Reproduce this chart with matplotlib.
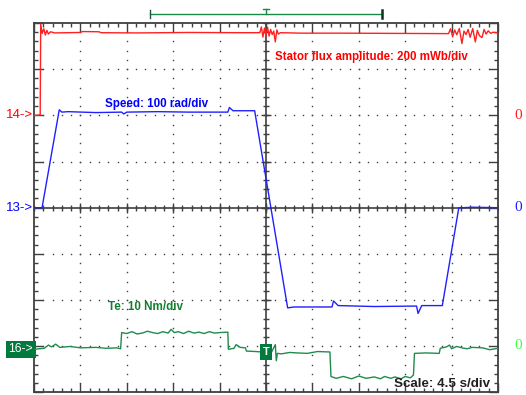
import numpy as np
import matplotlib.pyplot as plt

# scope settings
SEC_PER_DIV = 4.5
SPEED_PER_DIV, FLUX_PER_DIV, TE_PER_DIV = 100.0, 200.0, 10.0
SPEED_REF, FLUX_REF, TE_REF = 0.0, 2.0, -3.065   # channel ground, in divisions
TRIG_T = 22.5

# speed (rad/s)
speed_t = [0, 0.78, 2.45, 2.7, 3.3, 6.0, 8.5, 8.7, 9.0, 12.0, 15.0, 18.8, 18.95,
           19.3, 21.4, 24.6, 25.2, 28.9, 29.05, 29.5, 33.0, 37.1, 37.25, 37.6,
           39.6, 41.2, 41.6, 42.5, 45]
speed_v = [0, 0, 212, 207, 208, 206, 207, 203, 207, 208, 207, 207, 217,
           210, 210, -217, -215, -215, -202, -212, -214, -213, -229, -212,
           -212, 0, 0, 1, 0]

# stator flux amplitude (mWb)
flux_t = [0, 0.19, 0.6, 0.65, 0.8, 0.95, 1.1, 1.25, 1.4, 1.6, 2.0, 4.5, 4.7, 6.3,
          6.5, 10, 15, 20, 21.9, 22.05, 22.2, 22.35, 22.5, 22.65, 22.8, 22.95,
          23.1, 23.25, 23.4, 23.55, 23.7, 23.9, 26, 30, 35, 40.2, 40.4, 40.6,
          40.8, 41.0, 41.25, 41.5, 41.7, 41.9, 42.1, 42.3, 42.55, 42.8, 43.0,
          43.2, 43.45, 43.65, 43.85, 44.05, 44.3, 44.5, 45]
flux_v = [0, 0, 2, 395, 355, 375, 348, 368, 352, 362, 357, 359, 363, 362,
          358, 357, 359, 358, 358, 383, 339, 378, 345, 382, 343, 372, 350,
          365, 318, 370, 352, 358, 356, 356, 355, 354, 375, 340, 370, 349,
          376, 311, 365, 350, 372, 338, 376, 318, 368, 345, 337, 372, 352,
          366, 355, 360, 357]

# electromagnetic torque (Nm)
te_t = [0, 1.0, 1.4, 1.7, 2.1, 2.5, 3.5, 4.5, 6.0, 7.0, 8.0, 8.4, 8.5, 9.0,
        9.5, 10.0, 10.5, 11.0, 11.5, 12.0, 12.5, 13.0, 13.3, 13.6, 14.0,
        14.5, 15.0, 15.5, 16.0, 16.5, 17.0, 17.5, 18.0, 18.8, 18.85,
        19.4, 19.6, 20.0, 20.5, 20.6, 21.5, 22.1, 23.0, 23.4, 23.5, 23.6,
        24.0, 24.8, 25.5, 26.5, 27.5, 28.7, 28.8, 29.3, 30.0, 30.8, 31.5,
        32.2, 33.0, 33.6, 34.0, 34.6, 35.0, 35.6, 36.0, 36.5, 36.8, 36.9,
        38.0, 39.3, 39.4, 40.0, 40.3, 40.5, 41.0, 41.5, 42.0, 42.5, 43.5,
        44.2, 45]
te_v = [0, 0.2, 0.9, 0.5, 1.1, 0.4, 0.6, 0.3, 0.4, 0.2, 0.3, 0.1, 3.6, 3.4,
        3.8, 3.3, 3.5, 3.9, 3.6, 3.4, 3.8, 3.5, 4.3, 3.6, 3.8,
        3.4, 3.9, 3.5, 3.7, 3.4, 3.8, 3.5, 3.6, 3.7, 0.0,
        0.2, 1.0, 0.4, 0.3, -0.4, -0.5, -0.6, -0.8, 1.0, -2.5, -0.9,
        -1.0, -0.7, -0.8, -0.9, -0.5, -0.6, -5.9, -6.3, -5.9, -6.4, -5.8,
        -6.3, -6.0, -6.4, -5.9, -6.3, -6.0, -6.4, -5.9, -6.2, -5.6, -0.9,
        -0.8, -0.9, 0.2, 0.5, 0.9, 0.1, 0.6, 0.3, 0.1, 0.4, 0.3,
        -0.1, 0.2]

FRAME = "#404040"
RED, BLUE, GREEN = "#ff2020", "#2020ff", "#1f8c4e"
BOX_GREEN = "#007a3d"


def to_div(values, ref, per_div):
    return ref + np.asarray(values, dtype=float) / per_div


fig = plt.figure(figsize=(5.26, 3.95), dpi=100)
ax = fig.add_axes([34 / 526, 2.6 / 395, 464 / 526, 369.4 / 395])
ax.set_xlim(0, 10 * SEC_PER_DIV)
ax.set_ylim(-4, 4)

ax.set_xticks(np.arange(0, 10 * SEC_PER_DIV + 0.01, SEC_PER_DIV))
ax.set_xticks(np.arange(0, 10 * SEC_PER_DIV + 0.01, SEC_PER_DIV / 5), minor=True)
ax.set_yticks(np.arange(-4, 4.01, 1))
ax.set_yticks(np.arange(-4, 4.01, 0.2), minor=True)
ax.tick_params(which="both", direction="in", top=True, right=True, color=FRAME,
               labelleft=False, labelbottom=False, width=1)
ax.tick_params(which="major", length=6.5)
ax.tick_params(which="minor", length=2.8)
for sp in ax.spines.values():
    sp.set_color(FRAME)
    sp.set_linewidth(1.3)

# dotted graticule
gx = np.arange(SEC_PER_DIV, 10 * SEC_PER_DIV, SEC_PER_DIV)
gy = np.arange(-3, 4, 1)
fine_x = np.arange(0, 10 * SEC_PER_DIV + 0.01, SEC_PER_DIV / 5)
fine_y = np.arange(-4, 4.01, 0.2)
for x in gx:
    ax.plot(np.full_like(fine_y, x), fine_y, ls="none", marker="s", ms=1.0,
            mew=0, color=FRAME, zorder=1)
for y in gy:
    ax.plot(fine_x, np.full_like(fine_x, y), ls="none", marker="s", ms=1.0,
            mew=0, color=FRAME, zorder=1)

# centre cross with its own ticks
ax.axhline(0, color=FRAME, lw=1.2, zorder=2)
ax.axvline(TRIG_T, color=FRAME, lw=1.2, zorder=2)
ax.plot(fine_x, np.zeros_like(fine_x), ls="none", marker="|", ms=4.5, mew=1,
        color=FRAME, zorder=2)
ax.plot(gx, np.zeros_like(gx), ls="none", marker="|", ms=7.5, mew=1,
        color=FRAME, zorder=2)
ax.plot(np.full_like(fine_y, TRIG_T), fine_y, ls="none", marker="_", ms=4.5,
        mew=1, color=FRAME, zorder=2)
ax.plot(np.full_like(gy, TRIG_T, dtype=float), gy, ls="none", marker="_", ms=7.5,
        mew=1, color=FRAME, zorder=2)

# traces
ax.plot(flux_t, to_div(flux_v, FLUX_REF, FLUX_PER_DIV), color=RED, lw=1, zorder=4)
ax.plot(speed_t, to_div(speed_v, SPEED_REF, SPEED_PER_DIV), color=BLUE, lw=1, zorder=4)
ax.plot(te_t, to_div(te_v, TE_REF, TE_PER_DIV), color=GREEN, lw=1, zorder=4)

bold = dict(fontweight="bold", family="Liberation Sans", va="center")
ax.text(6.9, 2.25, "Speed: 100 rad/div", color="#0000ff", fontsize=8.4, **bold)
ax.text(23.4, 3.27, "Stator flux amplitude: 200 mWb/div", color="#ff0000",
        fontsize=8.3, **bold)
ax.text(7.2, -2.15, "Te: 10 Nm/div", color="#108030", fontsize=8.4, **bold)
ax.text(34.9, -3.82, "Scale: 4.5 s/div", color="#202020", fontsize=9.6,
        zorder=5, **bold)

# channel markers on the left
mk = dict(fontsize=9.5, family="Liberation Sans", ha="right", va="center",
          clip_on=False)
ax.text(-0.05, FLUX_REF, "14->", color="#ff0000", **mk)
ax.text(-0.05, SPEED_REF, "13->", color="#0000ff", **mk)
ax.text(-0.1, TE_REF, "16->", color="white", fontsize=8.8, ha="right",
        va="center", family="Liberation Sans", clip_on=False,
        bbox=dict(boxstyle="square,pad=0.22", fc=BOX_GREEN, ec="none"))

# ground levels on the right
zr = dict(fontsize=11, family="Liberation Serif", ha="center", va="center",
          clip_on=False)
ax.text(46.95, FLUX_REF, "0", color="#ff2020", **zr)
ax.text(46.95, SPEED_REF, "0", color="#2020ff", **zr)
ax.text(46.95, TE_REF + 0.08, "0", color="#40ff40", **zr)

# trigger marker
ax.text(TRIG_T, -3.13, "T", color="white", fontsize=8, fontweight="bold",
        family="Liberation Sans", ha="center", va="center", zorder=6,
        bbox=dict(boxstyle="square,pad=0.25", fc=BOX_GREEN, ec="none"))

# memory bracket above the screen
bx0, bx1, by = 2.5 * SEC_PER_DIV, 7.5 * SEC_PER_DIV, 4.2
ax.plot([bx0, bx1], [by, by], color="#1a8a4a", lw=1, clip_on=False)
ax.plot([bx0, bx0], [by - 0.1, by + 0.09], color="#1a5a3a", lw=1, clip_on=False)
ax.plot([bx1, bx1], [by - 0.1, by + 0.09], color="#103020", lw=1.8, clip_on=False)
ax.plot([TRIG_T, TRIG_T], [by, by + 0.1], color="#1a8a4a", lw=1, clip_on=False)
ax.plot([TRIG_T - 0.3, TRIG_T + 0.3], [by + 0.1, by + 0.1], color="#1a8a4a",
        lw=1, clip_on=False)

fig.savefig("out.png", dpi=100)
